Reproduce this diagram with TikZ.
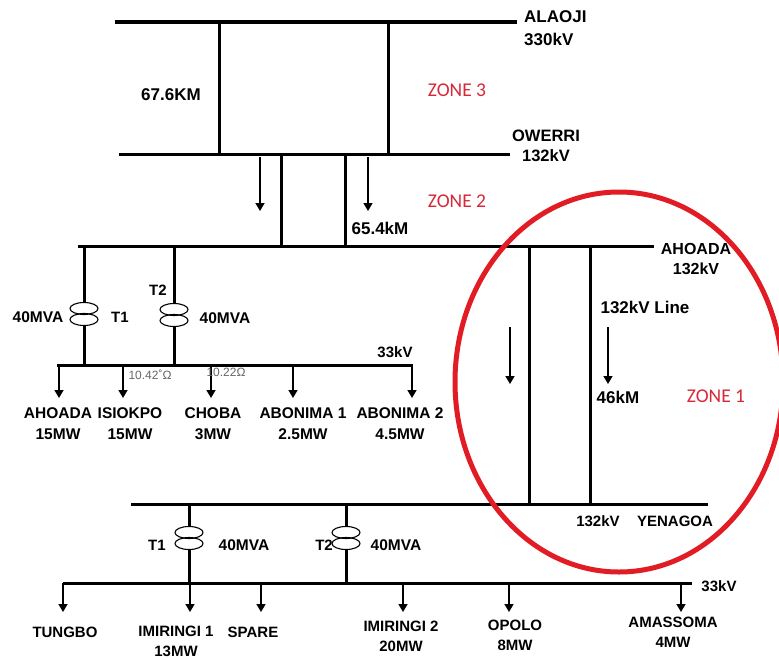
\documentclass[tikz,border=0pt]{standalone}
\usepackage{fontspec}
\setmainfont{Liberation Sans}
\newfontfamily\zonefont{Carlito}
\usepackage{tikz}
\usetikzlibrary{calc}
\usetikzlibrary{positioning}
\usetikzlibrary{arrows.meta}

\definecolor{zonered}{RGB}{214,40,57}
\definecolor{ringred}{RGB}{226,28,36}

\begin{document}
\begin{tikzpicture}[x=1pt,y=-1pt,
  bus/.style={line width=3pt},
  link/.style={line width=3pt},
  feeder/.style={line width=1.6pt,-{Triangle[length=8pt,width=9pt]}},
  xfmr/.style={minimum width=30pt,minimum height=23pt,inner sep=0pt},
  coil/.style={line width=1.1pt},
  lbl/.style={font=\fontsize{15.5}{21}\selectfont\bfseries,inner sep=0pt,align=center},
  lowlbl/.style={font=\fontsize{15}{20}\selectfont\bfseries,inner sep=0pt,align=center},
  biglbl/.style={font=\fontsize{17}{21}\selectfont\bfseries,inner sep=0pt,align=center},
  zone/.style={font=\fontsize{19.5}{22}\zonefont,text=zonered,inner sep=0pt},
  ohm/.style={font=\fontsize{12}{14}\selectfont,text=black!60,inner sep=0pt}]

\useasboundingbox (0,0) rectangle (779,659);

% bus bars
\coordinate (alaoji w) at (115,22);
\coordinate (alaoji e) at (517,22);
\coordinate (owerri w) at (119,154);
\coordinate (owerri e) at (510,154);
\coordinate (ahoada w) at (78,246);
\coordinate (ahoada e) at (654,246);
\coordinate (lvA w) at (57,365);
\coordinate (lvA e) at (413,365);
\coordinate (yenagoa w) at (131,504);
\coordinate (yenagoa e) at (708,504);
\coordinate (lvB w) at (63,583);
\coordinate (lvB e) at (692,583);

\draw[bus,line width=4pt] (alaoji w) -- (alaoji e);
\draw[bus] (owerri w) -- (owerri e);
\draw[bus] (ahoada w) -- (ahoada e);
\draw[bus] (lvA w) -- (lvA e);
\draw[bus] (yenagoa w) -- (yenagoa e);
\draw[bus] (lvB w) -- (lvB e);

% lines between the stations
\foreach \x [count=\i] in {219,388} {
  \coordinate (hv\i) at (\x,22);
  \draw[link] (hv\i) -- (hv\i |- owerri w);
}
\foreach \x [count=\i] in {281,345} {
  \coordinate (mv\i) at (\x,154);
  \draw[link] (mv\i) -- (mv\i |- ahoada w);
}
\foreach \x [count=\i] in {529,590} {
  \coordinate (yl\i) at (\x,246);
  \draw[link] (yl\i) -- (yl\i |- yenagoa w);
}

% power flow
\foreach \x/\ya/\yb [count=\i] in {260/157/211,368/157/211,510/327/384,608/327/384} {
  \coordinate (pf\i) at (\x,\ya);
  \coordinate (pt\i) at (\x,\yb);
  \draw[feeder] (pf\i) -- (pt\i);
}

% transformers
\node[xfmr] (tA1) at (84,314) {};
\node[xfmr] (tA2) at (174,315) {};
\node[xfmr] (tB1) at (189,538) {};
\node[xfmr] (tB2) at (346,538) {};
\foreach \t in {tA1,tA2,tB1,tB2} {
  \draw[coil] ($(\t.center)+(0,-5.5)$) ellipse [x radius=14pt,y radius=6pt];
  \draw[coil] ($(\t.center)+(0,5.5)$) ellipse [x radius=14pt,y radius=6pt];
}
\draw[link] (tA1.north |- ahoada w) -- (tA1.north);
\draw[link] (tA1.south) -- (tA1.south |- lvA w);
\draw[link] (tA2.north |- ahoada w) -- (tA2.north);
\draw[link] (tA2.south) -- (tA2.south |- lvA w);
\draw[link] (tB1.north |- yenagoa w) -- (tB1.north);
\draw[link] (tB1.south) -- (tB1.south |- lvB w);
\draw[link] (tB2.north |- yenagoa w) -- (tB2.north);
\draw[link] (tB2.south) -- (tB2.south |- lvB w);

% 33kV loads
\foreach \n/\x/\lx/\txt in {ahoadaL/59/58/{AHOADA\\15MW},isiokpo/123/130/{ISIOKPO\\15MW},choba/211/213/{CHOBA\\3MW},abonimaA/293/303/{ABONIMA 1\\2.5MW},abonimaB/412/400/{ABONIMA 2\\4.5MW}} {
  \coordinate (f\n) at (\x,365);
  \coordinate (e\n) at (\x,398);
  \draw[feeder] (f\n) -- (e\n);
  \node[lbl,anchor=north] (\n) at (\lx,407) {\txt};
}
\foreach \n/\x/\lx/\ly/\txt in {tungbo/63/65/627/{TUNGBO},imiringiA/190/176/626/{IMIRINGI 1\\13MW},spare/261/253/627/{SPARE},imiringiB/403/401/621/{IMIRINGI 2\\20MW},opolo/509/515/620/{OPOLO\\8MW},amassoma/681/673/617/{AMASSOMA\\4MW}} {
  \coordinate (f\n) at (\x,583);
  \coordinate (e\n) at (\x,612);
  \draw[feeder] (f\n) -- (e\n);
  \node[lowlbl,anchor=north] (\n) at (\lx,\ly) {\txt};
}

% station names
\node[biglbl,align=left,anchor=north west,font=\fontsize{17}{23}\selectfont\bfseries] (alaoji) at (524,10) {ALAOJI\\330kV};
\node[biglbl,anchor=north,font=\fontsize{16.5}{20}\selectfont\bfseries] (owerri) at (546,130) {OWERRI\\132kV};
\node[biglbl,anchor=north,font=\fontsize{16}{20}\selectfont\bfseries] (ahoada) at (696,243) {AHOADA\\132kV};
\node[lowlbl] (yen kv) at (598,521) {132kV};
\node[lowlbl,right=17pt of yen kv] (yenagoa) {YENAGOA};
\node[lowlbl] (kvA) at (395,352) {33kV};
\node[lowlbl] (kvB) at (719,586) {33kV};

% line data
\node[biglbl] (lenA) at (171,95) {67.6KM};
\node[biglbl] (lenB) at (380,228) {65.4kM};
\node[biglbl] (lenC) at (618,397) {46kM};
\node[biglbl] (lineC) at (645,307) {132kV Line};
\node[ohm] (zA) at (150,375) {10.42˚Ω};
\node[ohm] (zB) at (226,372) {10.22Ω};

% transformer data
\node[lowlbl] (nT2a) at (158,290) {T2};
\node[lowlbl] (nT1a) at (120,317) {T1};
\node[lbl] (sT1a) at (38,317) {40MVA};
\node[lbl] (sT2a) at (225,318) {40MVA};
\node[lowlbl] (nT1b) at (157,545) {T1};
\node[lbl] (sT1b) at (244,545) {40MVA};
\node[lowlbl] (nT2b) at (324,545) {T2};
\node[lbl] (sT2b) at (396,545) {40MVA};

% zones
\node[zone] (zone3) at (457,90) {ZONE 3};
\node[zone] (zone2) at (457,201) {ZONE 2};
\node[zone] (zone1) at (716,396) {ZONE 1};
\draw[ringred,line width=5pt] (619,382) ellipse [x radius=164pt,y radius=190pt];

\end{tikzpicture}
\end{document}
